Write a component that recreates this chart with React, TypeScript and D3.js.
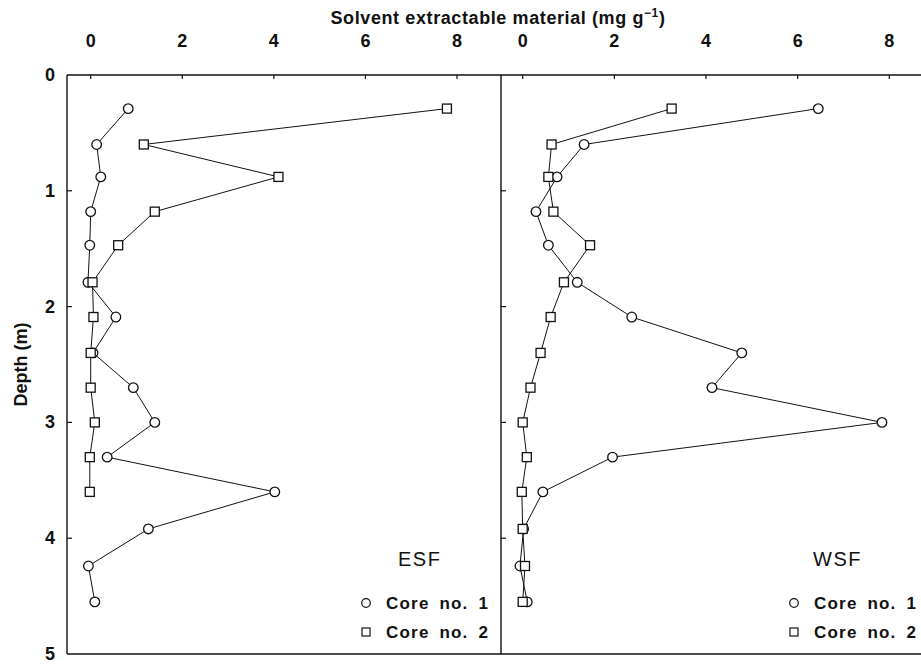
import React from "react";
import * as d3 from "d3";

// Sampling depths (m) shared by all cores
const depths = [0.29, 0.6, 0.88, 1.18, 1.47, 1.79, 2.09, 2.4, 2.7, 3.0, 3.3, 3.6, 3.92, 4.24, 4.55];

// Solvent extractable material (mg g-1)
const esfCore1 = [0.82, 0.13, 0.22, 0.0, -0.02, -0.06, 0.55, 0.05, 0.93, 1.4, 0.36, 4.02, 1.26, -0.05, 0.09];
const esfCore2 = [7.78, 1.16, 4.1, 1.4, 0.6, 0.04, 0.06, 0.0, 0.0, 0.09, -0.02, -0.02];
const wsfCore1 = [6.45, 1.34, 0.75, 0.29, 0.56, 1.19, 2.38, 4.78, 4.13, 7.84, 1.96, 0.44, 0.02, -0.06, 0.1];
const wsfCore2 = [3.25, 0.63, 0.56, 0.67, 1.47, 0.9, 0.61, 0.39, 0.17, 0.0, 0.09, -0.02, 0.0, 0.05, 0.0];

const xTicks = [0, 2, 4, 6, 8];
const depthTicks = [0, 1, 2, 3, 4, 5];
const panelNames = ["ESF", "WSF"];
const legendLabels = ["Core no. 1", "Core no. 2"];

const W = 921;
const H = 668;
const top = 75;
const bottom = 654;
const font = "'Liberation Sans', Arial, Helvetica, sans-serif";

const y = d3.scaleLinear().domain([0, 5]).range([top, bottom]);

type Panel = {
  name: string;
  left: number;
  right: number;
  x: d3.ScaleLinear<number, number>;
  core1: number[];
  core2: number[];
  legendX: number;
};

const panels: Panel[] = [
  {
    name: panelNames[0],
    left: 67,
    right: 501,
    x: d3.scaleLinear().domain([0, 8]).range([90.7, 457]),
    core1: esfCore1,
    core2: esfCore2,
    legendX: 366,
  },
  {
    name: panelNames[1],
    left: 501,
    right: 940,
    x: d3.scaleLinear().domain([0, 8]).range([522.7, 889.3]),
    core1: wsfCore1,
    core2: wsfCore2,
    legendX: 794,
  },
];

function PanelView({ p, index }: { p: Panel; index: number }) {
  const pts1 = p.core1.map((v, i) => [p.x(v), y(depths[i])] as [number, number]);
  const pts2 = p.core2.map((v, i) => [p.x(v), y(depths[i])] as [number, number]);
  const line = d3.line<[number, number]>();
  const s = 4.5;
  return (
    <g>
      {/* frame */}
      <line x1={p.left} x2={p.right} y1={top} y2={top} stroke="#111" strokeWidth={1.4} />
      <line x1={p.left} x2={p.right} y1={bottom} y2={bottom} stroke="#111" strokeWidth={1.4} />
      <line x1={p.left} x2={p.left} y1={top} y2={bottom} stroke="#111" strokeWidth={1.4} />
      {/* top axis ticks and labels */}
      {xTicks.map((t) => (
        <g key={t}>
          <line x1={p.x(t)} x2={p.x(t)} y1={top} y2={top + 4} stroke="#111" strokeWidth={1.2} />
          <text
            x={p.x(t)}
            y={47}
            textAnchor="middle"
            fontFamily={font}
            fontWeight="bold"
            fontSize={18}
            fill="#111"
          >
            {t}
          </text>
        </g>
      ))}
      {/* depth ticks */}
      {depthTicks.slice(1, 5).map((t) => (
        <line key={t} x1={p.left} x2={p.left + 5} y1={y(t)} y2={y(t)} stroke="#111" strokeWidth={1.2} />
      ))}
      {/* series lines */}
      <path d={line(pts1) || ""} fill="none" stroke="#111" strokeWidth={1} />
      <path d={line(pts2) || ""} fill="none" stroke="#111" strokeWidth={1} />
      {/* markers: circles first, squares on top */}
      {pts1.map(([cx, cy], i) => (
        <circle key={"c" + i} cx={cx} cy={cy} r={4.8} fill="#fff" stroke="#111" strokeWidth={1.3} />
      ))}
      {pts2.map(([cx, cy], i) => (
        <rect
          key={"s" + i}
          x={cx - s}
          y={cy - s}
          width={2 * s}
          height={2 * s}
          fill="#fff"
          stroke="#111"
          strokeWidth={1.3}
        />
      ))}
      {/* panel label and legend */}
      <text
        x={p.legendX + (index === 0 ? 32 : 19)}
        y={566}
        fontFamily={font}
        fontSize={20}
        letterSpacing={1.5}
        fill="#111"
      >
        {p.name}
      </text>
      <circle cx={p.legendX} cy={603} r={4.3} fill="#fff" stroke="#111" strokeWidth={1.2} />
      <text
        x={p.legendX + 20}
        y={609}
        fontFamily={font}
        fontWeight="bold"
        fontSize={17}
        letterSpacing={1.2}
        wordSpacing={4}
        fill="#111"
      >
        {legendLabels[0]}
      </text>
      <rect x={p.legendX - 4} y={628} width={8} height={8} fill="#fff" stroke="#111" strokeWidth={1.2} />
      <text
        x={p.legendX + 20}
        y={638}
        fontFamily={font}
        fontWeight="bold"
        fontSize={17}
        letterSpacing={1.2}
        wordSpacing={4}
        fill="#111"
      >
        {legendLabels[1]}
      </text>
    </g>
  );
}

export default function App() {
  return (
    <svg
      width={W}
      height={H}
      viewBox={`0 0 ${W} ${H}`}
      style={{ position: "absolute", left: 0, top: 0, background: "#fff" }}
    >
      <rect x={0} y={0} width={W} height={H} fill="#fff" />
      <text
        x={498}
        y={24}
        textAnchor="middle"
        fontFamily={font}
        fontWeight="bold"
        fontSize={18}
        letterSpacing={0.6}
        fill="#111"
      >
        Solvent extractable material (mg g
        <tspan dy={-7} fontSize={12}>−1</tspan>
        <tspan dy={7}>)</tspan>
      </text>
      {depthTicks.map((t) => (
        <text
          key={t}
          x={55}
          y={y(t) + 6}
          textAnchor="end"
          fontFamily={font}
          fontWeight="bold"
          fontSize={18}
          fill="#111"
        >
          {t}
        </text>
      ))}
      <text
        transform={`translate(27, ${y(2.5)}) rotate(-90)`}
        textAnchor="middle"
        fontFamily={font}
        fontWeight="bold"
        fontSize={18}
        fill="#111"
      >
        Depth (m)
      </text>
      {panels.map((p, i) => (
        <PanelView key={p.name} p={p} index={i} />
      ))}
    </svg>
  );
}
